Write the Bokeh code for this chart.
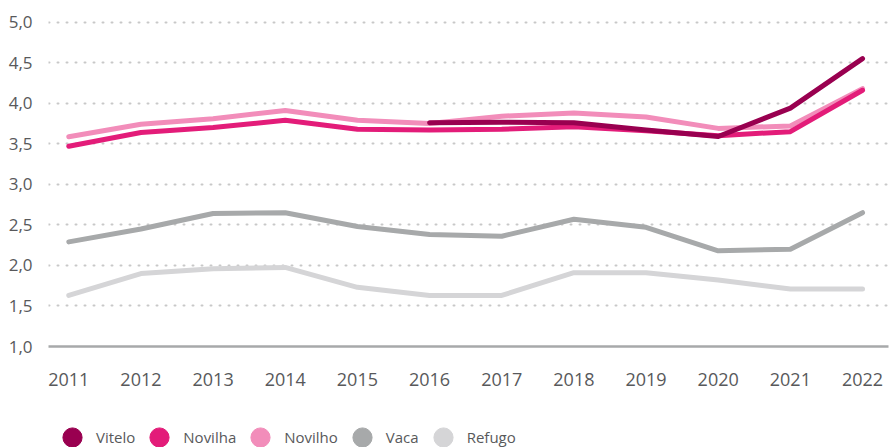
import numpy as np
from bokeh.plotting import figure
from bokeh.layouts import column
from bokeh.models import (Range1d, FixedTicker, CustomJSTickFormatter, Legend, LegendItem)
from bokeh.embed import file_html
from bokeh.resources import INLINE

years = [2011, 2012, 2013, 2014, 2015, 2016, 2017, 2018, 2019, 2020, 2021, 2022]
vitelo = [np.nan, np.nan, np.nan, np.nan, np.nan, 3.76, 3.765, 3.76, 3.67, 3.59, 3.94, 4.55]
novilha = [3.47, 3.64, 3.70, 3.79, 3.68, 3.67, 3.68, 3.71, 3.66, 3.60, 3.65, 4.16]
novilho = [3.586, 3.74, 3.81, 3.91, 3.79, 3.75, 3.84, 3.88, 3.83, 3.69, 3.72, 4.18]
vaca = [2.29, 2.45, 2.64, 2.65, 2.48, 2.38, 2.36, 2.57, 2.47, 2.18, 2.20, 2.65]
refugo = [1.63, 1.90, 1.96, 1.975, 1.73, 1.63, 1.63, 1.91, 1.91, 1.82, 1.71, 1.71]

series_names = ["Vitelo", "Novilha", "Novilho", "Vaca", "Refugo"]
series_colors = ["#990050", "#E31C79", "#F28DBA", "#A7A9AA", "#D5D5D7"]
series_values = [vitelo, novilha, novilho, vaca, refugo]

y_ticks = [1.0, 1.5, 2.0, 2.5, 3.0, 3.5, 4.0, 4.5, 5.0]

FONT = "Open Sans"
TXT = "#58595B"

p = figure(width=890, height=413, output_backend="svg", toolbar_location=None,
           x_range=Range1d(2010.719, 2022.36), y_range=Range1d(1.0, 5.144),
           min_border_left=48, min_border_right=2, min_border_top=10, min_border_bottom=67)
p.outline_line_color = None
p.background_fill_color = "white"

# grid
p.xgrid.grid_line_color = None
p.ygrid.ticker = FixedTicker(ticks=y_ticks[1:])
p.ygrid.grid_line_color = "#C8C8C8"
p.ygrid.grid_line_width = 2
p.ygrid.grid_line_dash = "1 8"
p.ygrid.grid_line_cap = "round"

# axes
p.xaxis.ticker = FixedTicker(ticks=years)
p.xaxis.axis_line_color = "#A7A9AA"
p.xaxis.axis_line_width = 2.5
p.xaxis.major_tick_line_color = None
p.xaxis.minor_tick_line_color = None
p.xaxis.major_label_standoff = 20
p.xaxis.major_label_text_font = FONT
p.xaxis.major_label_text_font_size = "18px"
p.xaxis.major_label_text_color = TXT

p.yaxis.ticker = FixedTicker(ticks=y_ticks)
p.yaxis.formatter = CustomJSTickFormatter(code="return tick.toFixed(1).replace('.', ',');")
p.yaxis.axis_line_color = None
p.yaxis.major_tick_line_color = None
p.yaxis.minor_tick_line_color = None
p.yaxis.major_label_standoff = 10
p.yaxis.major_label_text_font = FONT
p.yaxis.major_label_text_font_size = "17px"
p.yaxis.major_label_text_color = TXT

# lines (draw order: greys first, then pinks, Vitelo on top)
for idx in [4, 3, 2, 1, 0]:
    p.line(years, series_values[idx], line_color=series_colors[idx], line_width=5,
           line_cap="round", line_join="round")

# legend strip below the chart
lg = figure(width=890, height=34, output_backend="svg", toolbar_location=None,
            x_axis_type=None, y_axis_type=None,
            x_range=Range1d(0, 1), y_range=Range1d(0, 1),
            min_border_left=0, min_border_right=0, min_border_top=0, min_border_bottom=0)
lg.outline_line_color = None
lg.xgrid.visible = False
lg.ygrid.visible = False

items = []
for name, col in zip(series_names, series_colors):
    r = lg.scatter(x=[0.5], y=[np.nan], marker="circle", size=19,
                   fill_color=col, line_color=col)
    items.append(LegendItem(label=name, renderers=[r]))

legend = Legend(items=items, orientation="horizontal", location="top_left",
                glyph_width=48, glyph_height=48, label_standoff=-6, spacing=0,
                padding=0, margin=0, border_line_color=None, background_fill_alpha=0,
                label_text_font=FONT, label_text_font_size="15px", label_text_color=TXT)
lg.add_layout(legend, "center")

layout = column(p, lg, spacing=0)
open("out.html", "w").write(file_html(layout, INLINE))
